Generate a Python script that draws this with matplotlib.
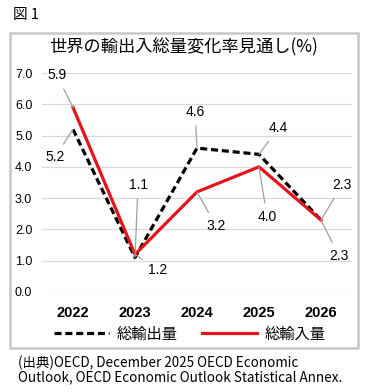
import matplotlib
matplotlib.use("Agg")
import matplotlib.pyplot as plt
from matplotlib.patches import Rectangle

plt.rcParams['font.family'] = ['Noto Sans CJK JP', 'DejaVu Sans']

# data
years = ["2022", "2023", "2024", "2025", "2026"]
exports = [5.2, 1.1, 4.6, 4.4, 2.3]   # 総輸出量
imports = [5.9, 1.2, 3.2, 4.0, 2.3]   # 総輸入量
yticks = [0, 1, 2, 3, 4, 5, 6, 7]

narrow = ['Liberation Sans', 'DejaVu Sans']
red = '#e5141b'

fig = plt.figure(figsize=(3.70, 3.92), dpi=100)
ax = fig.add_axes([42/370, 1 - 292/392, 310/370, 219/392])

x = list(range(len(years)))
ax.plot(x, exports, color='black', lw=2.3, ls=(0, (2.2, 1.2)), label='総輸出量', zorder=3)
ax.plot(x, imports, color=red, lw=2.3, label='総輸入量', zorder=3)

ax.set_xlim(-0.5, len(years) - 0.5)
ax.set_ylim(0, 7)
ax.set_yticks(yticks)
ax.set_yticklabels([f"{v:.1f}" for v in yticks], family=narrow, fontsize=9)
ax.set_xticks(x)
ax.set_xticklabels(years, family=narrow, fontsize=10.5, fontweight='bold')
ax.tick_params(length=0, pad=7)
ax.tick_params(axis='x', pad=10)
ax.grid(axis='y', color='#d9d9d9', lw=0.9)
ax.set_axisbelow(True)
for s in ax.spines.values():
    s.set_visible(False)

# label offsets in pixels (dx, dy) for each point
exp_off = [(-18, -28), (3, 73), (-2, 36), (19, 26), (21, 35)]
imp_off = [(-16, 32), (23, -16), (19, -34), (8, -50), (18, -36)]

def label(xi, v, off):
    ax.annotate(f"{v:.1f}", xy=(xi, v), xytext=off, textcoords='offset pixels',
                ha='center', va='center', family=narrow, fontsize=10,
                arrowprops=dict(arrowstyle='-', color='#a0a0a0', lw=0.9,
                                shrinkA=3, shrinkB=0))

for i in x:
    label(i, exports[i], exp_off[i])
    label(i, imports[i], imp_off[i])

# outer frame and texts
fig.patches.append(Rectangle((10/370, 1 - 348/392), 348/370, 315/392, transform=fig.transFigure,
                             fill=False, edgecolor='#c8c8c8', lw=1.8))
fig.text(13/370, 1 - 15/392, "図 1", fontsize=10.5, va='center')
fig.text(184/370, 1 - 47/392, "世界の輸出入総量変化率見通し(%)", fontsize=12.4,
         ha='center', va='center')
fig.legend(loc='center', bbox_to_anchor=(190/370, 1 - 334/392), ncol=2, frameon=False,
           fontsize=11, handlelength=3.6, columnspacing=1.6, handletextpad=0.5)
fig.text(18/370, 1 - 370/392,
         "(出典)OECD, December 2025 OECD Economic\nOutlook, OECD Economic Outlook Statistical Annex.",
         fontsize=9.7, va='center', linespacing=1.05)

fig.savefig("out.png", dpi=100)
